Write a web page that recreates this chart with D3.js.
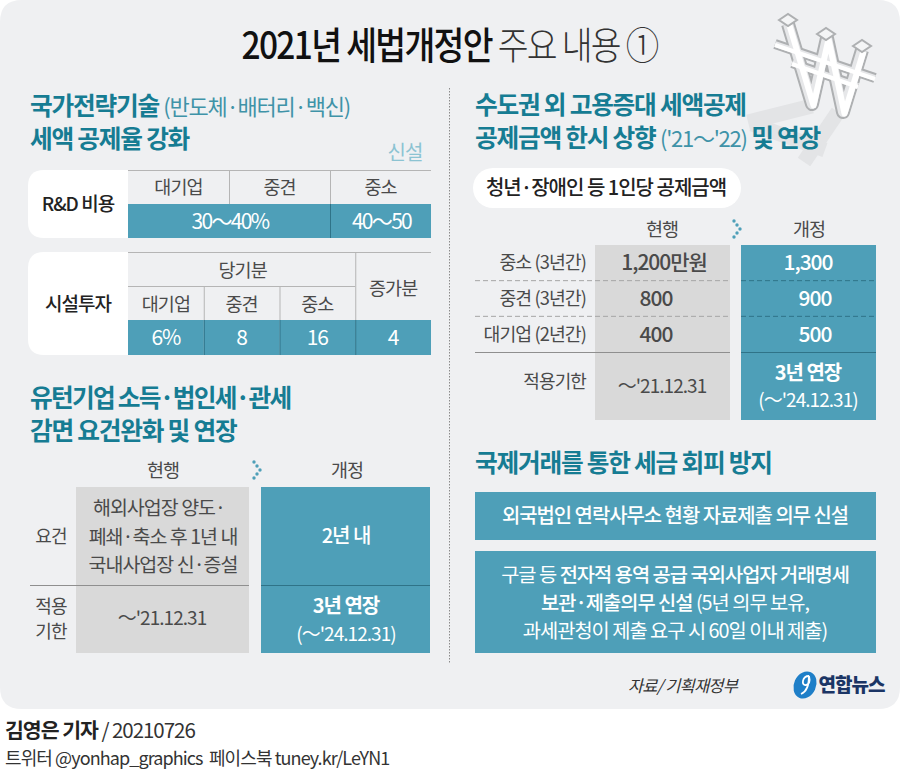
<!DOCTYPE html>
<html>
<head>
<meta charset="utf-8">
<script src="https://cdn.jsdelivr.net/npm/d3@7"></script>
<style>
  html, body { margin: 0; padding: 0; background: #fff; }
  svg { display: block; }
  text { font-family: "Noto Sans CJK KR", "Noto Sans", sans-serif; letter-spacing: -0.05em; white-space: pre; }
</style>
</head>
<body>
<div id="chart"></div>
<script>
// R&D table
var rdHeaders = ["대기업", "중견", "중소"];
var rdRates = ["30～40%", "40～50"];
// facility table
var facilityHeaders = ["대기업", "중견", "중소", "증가분"];
var facilityRates = ["6%", "8", "16", "4"];
// employment table, amounts in 만원
var jobRows = ["중소 (3년간)", "중견 (3년간)", "대기업 (2년간)"];
var jobCurrent = [1200, 800, 400];
var jobRevised = [1300, 900, 500];
// u-turn table
var uturnCurrent = ["해외사업장 양도·", "폐쇄·축소 후 1년 내", "국내사업장 신·증설"];

var TEAL = "#4e9fb8", GREY = "#d9d9d9", HEAD = "#167c93", INK = "#4a4a4a";
var H = 24.7;

var svg = d3.select("#chart").append("svg").attr("width", 900).attr("height", 771);

svg.append("path")
    .attr("d", "M0,22 Q0,0 22,0 H878 Q900,0 900,22 V687 Q900,709 878,709 H22 Q0,709 0,687 Z")
    .attr("fill", "#eff0f2");

function label(x, y, str, size, opt) {
    opt = opt || {};
    return svg.append("text")
        .attr("x", x).attr("y", y).attr("dy", "0.36em")
        .attr("text-anchor", opt.anchor || "middle")
        .attr("font-size", size)
        .attr("font-weight", opt.weight || 400)
        .attr("fill", opt.fill || INK)
        .text(str);
}

// parts = [[text, weight, fill, size]]
function runs(x, y, parts, size, anchor, fill) {
    var t = svg.append("text").attr("x", x).attr("y", y).attr("dy", "0.36em")
        .attr("text-anchor", anchor || "start").attr("font-size", size);
    parts.forEach(function(p) {
        t.append("tspan").attr("font-weight", p[1]).attr("fill", p[2] || fill).attr("font-size", p[3] || size).text(p[0]);
    });
    return t;
}

function hline(x1, x2, y, color, dash) {
    svg.append("line").attr("x1", x1).attr("x2", x2).attr("y1", y).attr("y2", y)
        .attr("stroke", color).attr("stroke-width", 1).attr("stroke-dasharray", dash || null);
}
function vline(x, y1, y2, color) {
    svg.append("line").attr("x1", x).attr("x2", x).attr("y1", y1).attr("y2", y2)
        .attr("stroke", color).attr("stroke-width", 1);
}
// white tab with rounded left corners
function tab(x, y, w, h) {
    svg.append("path")
        .attr("d", "M" + (x + w) + "," + y + " H" + (x + 16) + " Q" + x + "," + y + " " + x + "," + (y + 16) +
            " V" + (y + h - 16) + " Q" + x + "," + (y + h) + " " + (x + 16) + "," + (y + h) + " H" + (x + w) + " Z")
        .attr("fill", "#fff");
}
// little dotted chevron between the two columns
function chevron(x, y) {
    var pts = [[-3, -8], [0, -4], [3, 0], [0, 4], [-3, 8]];
    svg.selectAll(null).data(pts).enter().append("circle")
        .attr("cx", function(d) { return x + d[0]; })
        .attr("cy", function(d) { return y + d[1]; })
        .attr("r", 1.7).attr("fill", TEAL);
}

// title, the face in the picture is tall and narrow
runs(0, 0, [["2021년 세법개정안", 500, "#111"], [" 주요 내용 ①", 300, "#333"]], 38, "middle")
    .attr("transform", "translate(449.5,45) scale(0.882,1)");

// won sign, drawn behind the headings
var wonLine = d3.line();
var wonStems = [[[788, 24], [812, 104], [827, 38], [843, 112], [862, 50]]];
var wonBars = [[[775, 44], [875, 78]], [[792, 63], [858, 86]]];
var wonTops = [[788, 20], [826, 34], [862, 46]];
var shadows = [[[812, 106], [748, 122]], [[752, 124], [825, 150]], [[838, 112], [804, 162]]];
svg.selectAll(null).data(shadows).enter().append("path")
    .attr("d", wonLine).attr("fill", "none").attr("stroke", "#e3e4e6").attr("stroke-width", 15);
function wonLayer(data, color, width, dx, dy) {
    svg.selectAll(null).data(data).enter().append("path")
        .attr("d", wonLine).attr("fill", "none").attr("stroke", color).attr("stroke-width", width)
        .attr("stroke-linejoin", "round").attr("stroke-linecap", "butt")
        .attr("transform", "translate(" + dx + "," + dy + ")");
}
wonLayer(wonStems, "#aeb0b2", 14, 0, 0);
wonLayer(wonBars, "#aeb0b2", 10, 0, 0);
wonLayer(wonStems, "#e6e7e9", 10, 0, 0);
wonLayer(wonBars, "#e6e7e9", 6, 0, 0);
wonLayer(wonStems, "#fff", 6, 1.5, 1.5);
wonLayer(wonBars, "#fff", 4, 0, 1);
svg.selectAll(null).data(wonTops).enter().append("path")
    .attr("d", function(d) {
        return "M" + (d[0] - 9) + "," + d[1] + " L" + d[0] + "," + (d[1] - 6) + " L" + (d[0] + 9) + "," + d[1] + " L" + d[0] + "," + (d[1] + 6) + " Z";
    })
    .attr("fill", "#f4f5f6").attr("stroke", "#aeb0b2").attr("stroke-width", 2);

// center divider
svg.append("line").attr("x1", 449.5).attr("x2", 449.5).attr("y1", 88).attr("y2", 664)
    .attr("stroke", "#8a8a8a").attr("stroke-width", 1).attr("stroke-dasharray", "1.5 1.5");

// section 1
runs(30, 106, [["국가전략기술 ", 700, HEAD], ["(반도체·배터리·백신)", 400, "#3f93a8", 22]], H);
runs(30, 139, [["세액 공제율 강화", 700, HEAD]], H);
label(405, 153, "신설", 20, {fill: "#8cc3d2"});

var rdX = d3.scaleBand().domain(rdHeaders).range([128, 431]);
tab(28, 170, 100, 68);
label(78, 204, "R&D 비용", 19, {fill: "#222", weight: 500});
hline(128, 431, 170.5, "#b5b5b5");
rdHeaders.forEach(function(h, i) {
    label(rdX(h) + rdX.bandwidth() / 2, 187, h, 18.5);
    if (i > 0) vline(rdX(h) + 0.5, 170, 204, "#b5b5b5");
});
svg.append("rect").attr("x", rdX(rdHeaders[0])).attr("y", 204).attr("width", 303).attr("height", 34).attr("fill", TEAL);
vline(rdX(rdHeaders[2]) + 0.5, 204, 238, "#2f7388");
label((rdX(rdHeaders[0]) + rdX(rdHeaders[2])) / 2 + 1, 221, rdRates[0], 21, {fill: "#fff"}).style("letter-spacing", "-0.08em");
label(rdX(rdHeaders[2]) + rdX.bandwidth() / 2 + 1, 221, rdRates[1], 21, {fill: "#fff"}).style("letter-spacing", "-0.08em");

var facX = d3.scaleBand().domain(facilityHeaders).range([128, 431]);
tab(28, 252, 100, 103);
label(78, 304, "시설투자", 19, {fill: "#222", weight: 500});
hline(128, 431, 252.5, "#b5b5b5");
hline(128, facX("증가분"), 286.5, "#b5b5b5");
label((128 + facX("증가분")) / 2 + 1, 270, "당기분", 18.5);
label(facX("증가분") + facX.bandwidth() / 2, 288, "증가분", 18.5);
vline(facX("증가분") + 0.5, 252, 320, "#b5b5b5");
facilityHeaders.slice(0, 3).forEach(function(h, i) {
    label(facX(h) + facX.bandwidth() / 2, 304, h, 18.5);
    if (i > 0) vline(facX(h) + 0.5, 287, 320, "#b5b5b5");
});
svg.selectAll(null).data(facilityRates).enter().append("rect")
    .attr("x", function(d, i) { return facX(facilityHeaders[i]); })
    .attr("y", 320).attr("width", facX.bandwidth()).attr("height", 35).attr("fill", TEAL);
facilityRates.forEach(function(v, i) {
    var h = facilityHeaders[i];
    label(facX(h) + facX.bandwidth() / 2, 337, v, 21, {fill: "#fff"});
    if (i > 0) vline(facX(h) + 0.5, 320, 355, "#2f7388");
});

// section 2
runs(475, 105, [["수도권 외 고용증대 세액공제", 700, HEAD]], H);
runs(475, 138, [["공제금액 한시 상향 ", 700, HEAD], ["('21～'22)", 400, "#3f93a8", 22], [" 및 연장", 700, HEAD]], H);
svg.append("rect").attr("x", 473).attr("y", 168).attr("width", 268).attr("height", 40).attr("rx", 20).attr("fill", "#fff");
label(606, 188, "청년·장애인 등 1인당 공제금액", 20, {fill: "#222", weight: 500});
label(662, 229, "현행", 18.5);
chevron(737, 229);
label(809, 229, "개정", 18.5);

var jobY = d3.scaleBand().domain(jobRows).range([245, 352]);
var fmt = d3.format(",");
svg.append("rect").attr("x", 595).attr("y", 245).attr("width", 135).attr("height", 175).attr("fill", GREY);
svg.append("rect").attr("x", 741).attr("y", 245).attr("width", 135).attr("height", 175).attr("fill", TEAL);
jobRows.forEach(function(r, i) {
    var cy = jobY(r) + jobY.bandwidth() / 2;
    label(586, cy, r, 18.3, {anchor: "end"});
    label(i == 0 ? 664 : 656, cy, fmt(jobCurrent[i]) + (i == 0 ? "만원" : ""), 21, {weight: 500});
    label(i == 0 ? 808 : 815, cy, fmt(jobRevised[i]), 21, {fill: "#fff", weight: 500});
    if (i < 2) {
        hline(475, 730, jobY(r) + jobY.bandwidth(), "#a5a5a5", "5 3");
        hline(741, 876, jobY(r) + jobY.bandwidth(), "#2f7388", "5 3");
    }
});
hline(475, 730, 352.5, "#8f8f8f");
hline(741, 876, 352.5, "#2f7388");
label(586, 382, "적용기한", 18, {anchor: "end"});
label(662, 386, "～'21.12.31", 19);
label(808, 373, "3년 연장", 20, {fill: "#fff", weight: 700});
label(808, 400, "(～'24.12.31)", 19, {fill: "#fff"});

// section 3
runs(30, 398, [["유턴기업 소득·법인세·관세", 700, HEAD]], H).style("letter-spacing", "-0.07em");
runs(30, 431, [["감면 요건완화 및 연장", 700, HEAD]], H);
label(163, 470, "현행", 18.5);
chevron(257, 470);
label(347, 470, "개정", 18.5);
svg.append("rect").attr("x", 76).attr("y", 487).attr("width", 173).attr("height", 166).attr("fill", GREY);
svg.append("rect").attr("x", 261).attr("y", 487).attr("width", 169).attr("height", 166).attr("fill", TEAL);
hline(30, 249, 585.5, "#8f8f8f");
hline(261, 430, 585.5, "#2f7388");
label(51, 537, "요건", 18);
label(51, 607, "적용", 18);
label(51, 632, "기한", 18);
uturnCurrent.forEach(function(s, i) {
    label(i == 0 ? 159 : 163, 508 + i * 28.5, s, 19.5);
});
label(162, 618, "～'21.12.31", 19);
label(346, 536, "2년 내", 20, {fill: "#fff", weight: 500});
label(346, 606, "3년 연장", 20, {fill: "#fff", weight: 700});
label(346, 634, "(～'24.12.31)", 19, {fill: "#fff"});

// section 4
runs(475, 463, [["국제거래를 통한 세금 회피 방지", 700, HEAD]], H);
svg.append("rect").attr("x", 475).attr("y", 492).attr("width", 401).attr("height", 48).attr("fill", TEAL);
svg.append("rect").attr("x", 475).attr("y", 551).attr("width", 401).attr("height", 102).attr("fill", TEAL);
label(675, 516, "외국법인 연락사무소 현황 자료제출 의무 신설", 19.9, {fill: "#fff", weight: 500});
runs(675, 575, [["구글 등 ", 400], ["전자적 용역 공급 국외사업자 거래명세", 500]], 19.8, "middle", "#fff");
runs(675, 603, [["보관·제출의무 신설", 500], [" (5년 의무 보유,", 400]], 19.8, "middle", "#fff");
runs(675, 631, [["과세관청이 제출 요구 시 60일 이내 제출)", 400]], 19.8, "middle", "#fff");

// source and logo
label(682.5, 686, "자료/ 기획재정부", 16.5, {fill: "#333"}).attr("font-style", "italic");
svg.append("ellipse").attr("cx", 805).attr("cy", 685).attr("rx", 11).attr("ry", 14)
    .attr("transform", "rotate(25 805 685)").attr("fill", "#1f7fc8");
svg.append("path").attr("d", "M809,676 C802,676 801,686 806,685 C810,684 810,680 809,676 C809,686 806,692 801,694")
    .attr("fill", "none").attr("stroke", "#fff").attr("stroke-width", 1.8);
label(851.5, 685, "연합뉴스", 19, {fill: "#1b3565", weight: 900});

// byline
runs(5, 731, [["김영은 기자", 700, "#222"], [" / 20210726", 400, "#333"]], 20.5);
label(5, 759, "트위터 @yonhap_graphics  페이스북 tuney.kr/LeYN1", 18, {anchor: "start", fill: "#333"});
</script>
</body>
</html>
